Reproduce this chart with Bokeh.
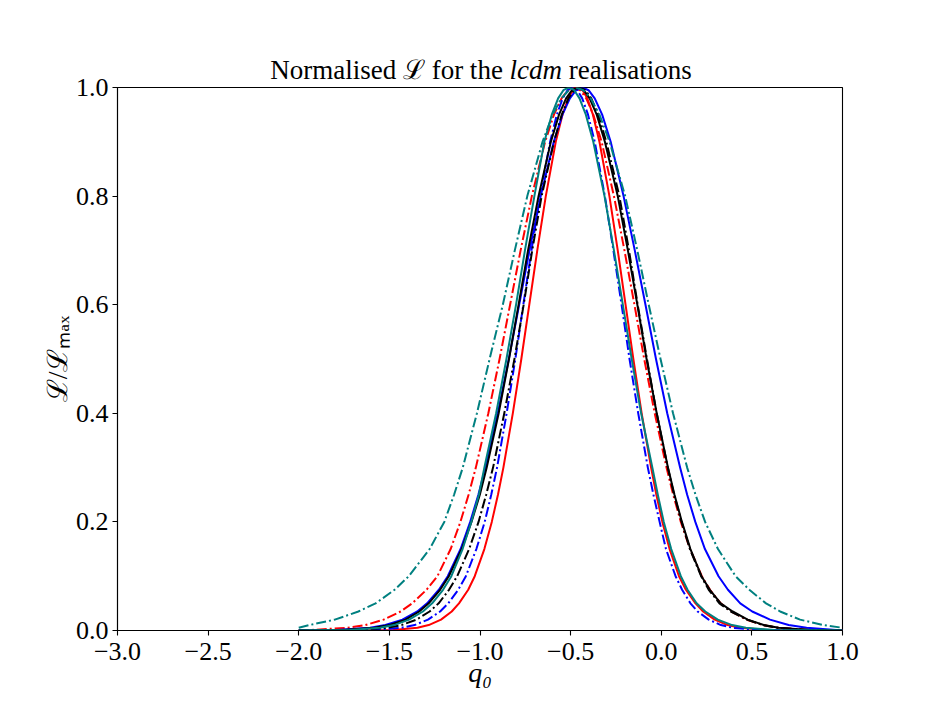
from bokeh.plotting import figure
from bokeh.models import Range1d, FixedTicker, Div
from bokeh.layouts import column
from bokeh.embed import file_html
from bokeh.resources import INLINE

# ---- data -------------------------------------------------------------
# likelihood levels at which each curve's left / right flank position was read
LEVELS = [0.001, 0.005, 0.01, 0.02, 0.035, 0.05, 0.075, 0.1, 0.15, 0.2, 0.25, 0.3,
          0.4, 0.5, 0.6, 0.7, 0.8, 0.9, 0.95, 0.98, 0.995]
Q_START = -2.0
Q_END = 1.0

red_solid_peak = -0.46
red_solid_left = [-1.478, -1.345, -1.283, -1.215, -1.156, -1.116, -1.065, -1.029, -0.976, -0.935, -0.901, -0.871, -0.819, -0.772, -0.728, -0.684, -0.637, -0.582, -0.545, -0.513, -0.487]
red_solid_right = [0.573, 0.435, 0.366, 0.295, 0.231, 0.189, 0.136, 0.098, 0.046, 0.006, -0.027, -0.056, -0.108, -0.154, -0.197, -0.240, -0.286, -0.341, -0.377, -0.408, -0.434]

red_dashdot_peak = -0.48
red_dashdot_left = [-1.930, -1.733, -1.633, -1.532, -1.438, -1.374, -1.295, -1.235, -1.162, -1.108, -1.063, -1.023, -0.954, -0.892, -0.834, -0.776, -0.714, -0.641, -0.592, -0.550, -0.515]
red_dashdot_right = [0.821, 0.643, 0.561, 0.471, 0.387, 0.328, 0.269, 0.224, 0.159, 0.108, 0.066, 0.029, -0.036, -0.094, -0.148, -0.203, -0.261, -0.329, -0.375, -0.414, -0.447]

blue_solid_peak = -0.435
blue_solid_left = [-1.792, -1.607, -1.522, -1.428, -1.346, -1.292, -1.227, -1.178, -1.107, -1.054, -1.009, -0.970, -0.902, -0.841, -0.784, -0.727, -0.665, -0.593, -0.545, -0.504, -0.470]
blue_solid_right = [None, 0.802, 0.703, 0.600, 0.502, 0.436, 0.368, 0.316, 0.241, 0.188, 0.143, 0.104, 0.033, -0.029, -0.087, -0.146, -0.208, -0.279, -0.326, -0.367, -0.401]

blue_dashdot_peak = -0.49
blue_dashdot_left = [-1.579, -1.434, -1.361, -1.287, -1.220, -1.175, -1.120, -1.078, -1.020, -0.974, -0.938, -0.906, -0.853, -0.805, -0.761, -0.716, -0.669, -0.613, -0.576, -0.544, -0.517]
blue_dashdot_right = [0.528, 0.395, 0.329, 0.262, 0.201, 0.161, 0.115, 0.079, 0.026, -0.009, -0.043, -0.074, -0.127, -0.175, -0.219, -0.264, -0.311, -0.367, -0.404, -0.436, -0.463]

black_solid_peak = -0.46
black_solid_left = [-1.761, -1.583, -1.498, -1.411, -1.335, -1.283, -1.220, -1.172, -1.101, -1.047, -1.001, -0.963, -0.897, -0.840, -0.787, -0.735, -0.677, -0.609, -0.564, -0.525, -0.493]
black_solid_right = [0.822, 0.647, 0.566, 0.477, 0.394, 0.328, 0.268, 0.222, 0.161, 0.114, 0.073, 0.037, -0.025, -0.081, -0.132, -0.184, -0.240, -0.311, -0.356, -0.395, -0.427]

black_dashdot_peak = -0.45
black_dashdot_left = [-1.677, -1.511, -1.433, -1.351, -1.278, -1.228, -1.171, -1.126, -1.060, -1.008, -0.966, -0.928, -0.866, -0.810, -0.759, -0.712, -0.660, -0.592, -0.549, -0.512, -0.481]
black_dashdot_right = [0.814, 0.640, 0.561, 0.473, 0.384, 0.321, 0.262, 0.220, 0.158, 0.112, 0.071, 0.036, -0.025, -0.079, -0.130, -0.178, -0.231, -0.303, -0.348, -0.386, -0.418]

teal_solid_peak = -0.51
teal_solid_left = [-1.718, -1.552, -1.475, -1.391, -1.315, -1.264, -1.204, -1.158, -1.096, -1.048, -1.006, -0.976, -0.911, -0.854, -0.801, -0.752, -0.700, -0.645, -0.604, -0.569, -0.540]
teal_solid_right = [0.624, 0.467, 0.391, 0.312, 0.243, 0.195, 0.145, 0.108, 0.055, 0.014, -0.019, -0.049, -0.111, -0.163, -0.212, -0.261, -0.313, -0.375, -0.416, -0.451, -0.480]

teal_dashdot_peak = -0.47
teal_dashdot_left = [None, -2.0, -1.942, -1.801, -1.671, -1.576, -1.471, -1.393, -1.278, -1.197, -1.143, -1.095, -1.017, -0.947, -0.874, -0.808, -0.739, -0.655, -0.599, -0.551, -0.510]
teal_dashdot_right = [None, 1.0, 0.896, 0.766, 0.656, 0.578, 0.486, 0.410, 0.313, 0.242, 0.189, 0.143, 0.065, -0.004, -0.069, -0.132, -0.199, -0.285, -0.341, -0.389, -0.430]

X_TICKS = [-3.0, -2.5, -2.0, -1.5, -1.0, -0.5, 0.0, 0.5, 1.0]
X_TICK_LABELS = ["\u22123.0", "\u22122.5", "\u22122.0", "\u22121.5", "\u22121.0", "\u22120.5", "0.0", "0.5", "1.0"]
Y_TICKS = [0.0, 0.2, 0.4, 0.6, 0.8, 1.0]
Y_TICK_LABELS = ["0.0", "0.2", "0.4", "0.6", "0.8", "1.0"]

TITLE_PARTS = ["Normalised \u2112 for the ", "lcdm", " realisations"]
X_LABEL = "q\u2080"
Y_LABEL = "\u2112/\u2112\u2098\u2090\u2093"

# ---- figure ------------------------------------------------------------
FONT = "Liberation Serif"
TITLE_H = 60

p = figure(width=928, height=712 - TITLE_H, output_backend="svg", toolbar_location=None,
           x_range=Range1d(-3.0, 1.0), y_range=Range1d(0.0, 1.0),
           min_border_left=117, min_border_right=86, min_border_top=87 - TITLE_H,
           min_border_bottom=82)
p.background_fill_color = "white"
p.border_fill_color = "white"
p.border_fill_alpha = 0.0
p.outline_line_color = "black"
p.outline_line_width = 1.1
p.xgrid.visible = False
p.ygrid.visible = False


def curve(peak, left, right):
    lx = [(x, y) for x, y in zip(left, LEVELS) if x is not None]
    rx = [(x, y) for x, y in zip(right, LEVELS) if x is not None]
    pts = []
    if lx[0][0] > Q_START:
        pts.append((Q_START, 0.0))
    pts += lx + [(peak, 1.0)] + list(reversed(rx))
    if rx[0][0] < Q_END:
        pts.append((Q_END, 0.0))
    return [q for q, _ in pts], [v for _, v in pts]


DD = "10 3 2 3"
series = [
    (red_solid_peak, red_solid_left, red_solid_right, "#ff0000", "solid"),
    (red_dashdot_peak, red_dashdot_left, red_dashdot_right, "#ff0000", DD),
    (blue_solid_peak, blue_solid_left, blue_solid_right, "#0000ff", "solid"),
    (blue_dashdot_peak, blue_dashdot_left, blue_dashdot_right, "#0000ff", DD),
    (black_solid_peak, black_solid_left, black_solid_right, "#000000", "solid"),
    (black_dashdot_peak, black_dashdot_left, black_dashdot_right, "#000000", DD),
    (teal_solid_peak, teal_solid_left, teal_solid_right, "#008080", "solid"),
    (teal_dashdot_peak, teal_dashdot_left, teal_dashdot_right, "#008080", DD),
]
for peak, left, right, color, dash in series:
    xs, ys = curve(peak, left, right)
    p.line(xs, ys, line_color=color, line_width=2, line_dash=dash, line_join="round")

# axes
p.xaxis.ticker = FixedTicker(ticks=X_TICKS)
p.yaxis.ticker = FixedTicker(ticks=Y_TICKS)
p.xaxis.major_label_overrides = {t: l for t, l in zip(X_TICKS, X_TICK_LABELS)}
p.yaxis.major_label_overrides = {t: l for t, l in zip(Y_TICKS, Y_TICK_LABELS)}
for ax in (p.xaxis[0], p.yaxis[0]):
    ax.axis_line_color = "black"
    ax.axis_line_width = 1.1
    ax.major_tick_line_color = "black"
    ax.major_tick_line_width = 1.1
    ax.major_tick_out = 5
    ax.major_tick_in = 0
    ax.minor_tick_line_color = None
    ax.major_label_text_font = FONT
    ax.major_label_text_font_size = "26px"
    ax.major_label_text_color = "black"
    ax.axis_label_text_font = FONT
    ax.axis_label_text_font_size = "28px"
    ax.axis_label_text_color = "black"
    ax.axis_label_text_font_style = "normal"

p.xaxis.major_label_standoff = 7
p.yaxis.major_label_standoff = 4
p.xaxis.axis_label = X_LABEL
p.xaxis.axis_label_text_font_style = "italic"
p.xaxis.axis_label_standoff = -6
p.yaxis.axis_label = Y_LABEL
p.yaxis.axis_label_standoff = 0

# title as an HTML block above the plot, so that "lcdm" can be italic;
# its line overflows into the (transparent) top border of the plot canvas
title_html = (
    "<div style=\"font-family:'Liberation Serif',serif;font-size:27px;line-height:27px;"
    "color:black;width:962px;text-align:center;padding-top:57px;white-space:nowrap;\">"
    + TITLE_PARTS[0] + "<i>" + TITLE_PARTS[1] + "</i>" + TITLE_PARTS[2] + "</div>"
)
title = Div(text=title_html, width=928, height=TITLE_H, margin=(0, 0, 0, 0),
            styles={"overflow": "visible", "position": "relative", "z-index": "2"})

layout = column(title, p, spacing=0)
open("out.html", "w").write(file_html(layout, INLINE))
